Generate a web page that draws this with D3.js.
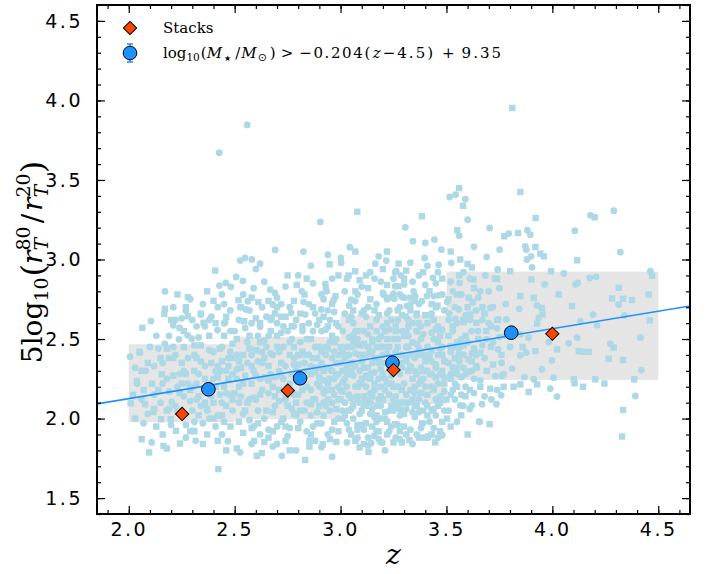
<!DOCTYPE html>
<html><head><meta charset="utf-8">
<script src="https://cdn.jsdelivr.net/npm/d3@7"></script>
<style>body{margin:0;background:#fff}svg{display:block}</style>
</head><body>
<svg id="c" width="711" height="574"></svg>
<script>
// ---------- data ----------
const xTicks = [2.0, 2.5, 3.0, 3.5, 4.0, 4.5];
const yTicks = [1.5, 2.0, 2.5, 3.0, 3.5, 4.0, 4.5];
const xDomain = [1.85, 4.65];
const yDomain = [1.4, 4.6];

// grey percentile bands per redshift bin
const bandZ0 = [2.0, 2.5, 3.0, 3.5];
const bandZ1 = [2.5, 3.0, 3.5, 4.5];
const bandLo = [1.977, 1.996, 2.09, 2.243];
const bandHi = [2.467, 2.515, 2.648, 2.924];

// stacks (orange diamonds)
const stackZ = [2.252, 2.751, 3.25, 4.0];
const stackY = [2.029, 2.176, 2.305, 2.533];

// mass-selected medians (blue circles)
const massZ = [2.376, 2.809, 3.245, 3.806];
const massY = [2.184, 2.253, 2.351, 2.54];

// linear fit (blue line) endpoints
const fitZ = [1.85, 4.65];
const fitY = [2.092, 2.708];

// individual galaxies: circles and squares [z, value]
const galCircles = [
[2.559,3.846],[2.427,3.671],[4.29,3.307],[2.904,3.236],[3.044,3.077],[3.003,2.98],
[2.006,2.389],[2.053,2.414],[2.108,1.85],[2.08,2.30],[2.09,2.03],
[2.105,2.613],[2.171,2.799],[2.16,2.35],[2.12,2.15],[2.19,2.06],[2.14,2.44],[2.18,2.25],[2.203,2.104],
[2.22,2.62],[2.21,2.586],[2.269,2.68],[2.237,2.498],[2.278,2.523],[2.297,2.502],[2.23,2.20],[2.26,2.30],[2.29,2.11],[2.22,2.40],[2.27,1.96],[2.25,2.03],
[2.34,2.654],[2.316,1.86],[2.37,2.05],[2.33,2.28],[2.39,2.14],[2.31,2.40],[2.36,2.33],[2.35,1.97],[2.38,2.43],[2.32,2.12],[2.36,2.58],
[2.428,2.836],[2.458,2.853],[2.482,2.828],[2.479,2.68],[2.455,2.606],[2.419,2.556],[2.468,1.858],[2.44,2.45],[2.41,2.30],[2.45,2.20],[2.49,2.05],[2.42,2.02],[2.47,2.38],[2.43,2.15],[2.49,2.28],[2.41,1.95],
[2.549,3.01],[2.526,2.993],[2.581,3.0],[2.507,2.89],[2.539,2.866],[2.562,2.738],[2.526,2.70],[2.553,2.686],[2.526,1.787],[2.56,2.48],[2.51,2.40],[2.59,2.30],[2.52,2.20],[2.57,2.12],[2.54,2.03],[2.50,2.55],[2.58,2.60],[2.56,2.35],[2.52,2.10],[2.59,1.95],[2.51,2.25],
[2.62,2.974],[2.691,3.06],[2.668,2.811],[2.69,2.79],[2.68,2.717],[2.675,2.633],[2.62,2.577],[2.68,1.824],[2.723,1.766],[2.65,2.45],[2.61,2.36],[2.67,2.28],[2.63,2.18],[2.69,2.08],[2.64,2.00],[2.66,2.52],[2.62,2.25],[2.68,2.40],[2.60,2.12],[2.66,1.93],
[2.767,2.665],[2.73,2.45],[2.78,2.38],[2.71,2.30],[2.76,2.22],[2.74,2.12],[2.79,2.02],[2.72,1.98],[2.75,2.55],[2.77,2.50],[2.70,2.60],[2.78,2.15],[2.73,2.25],[2.76,1.94],[2.71,2.42],[2.79,2.30],
[2.825,3.05],[2.817,2.80],[2.825,2.734],[2.833,2.654],[2.87,2.55],[2.81,2.48],[2.85,2.40],[2.88,2.32],[2.82,2.25],[2.86,2.18],[2.84,2.10],[2.89,2.04],[2.81,1.98],[2.87,1.95],[2.83,2.35],[2.88,2.45],[2.85,2.60],[2.80,2.15],[2.89,2.22],[2.86,2.02],
[2.94,3.03],[2.928,2.847],[2.935,2.80],[2.92,2.75],[2.909,2.686],[2.967,2.744],[2.95,2.62],[2.91,2.55],[2.98,2.50],[2.93,2.45],[2.96,2.38],[2.90,2.32],[2.99,2.28],[2.94,2.22],[2.97,2.15],[2.92,2.10],[2.95,2.05],[2.99,2.00],[2.91,1.97],[2.96,1.93],[2.93,2.40],[2.98,2.35],[2.90,2.20],
[3.001,3.01],[3.05,2.747],[3.069,2.738],[3.02,2.66],[3.06,2.60],[3.01,2.55],[3.08,2.50],[3.03,2.45],[3.09,2.40],[3.00,2.35],[3.05,2.30],[3.02,2.25],[3.07,2.20],[3.04,2.15],[3.09,2.10],[3.01,2.05],[3.06,2.00],[3.03,1.97],[3.08,1.93],[3.02,2.38],[3.06,2.48],[3.00,2.18],
[3.164,2.974],[3.19,1.85],[3.145,1.846],[3.203,2.78],[3.13,2.70],[3.17,2.62],[3.11,2.55],[3.15,2.50],[3.19,2.45],[3.12,2.40],[3.18,2.35],[3.14,2.28],[3.10,2.22],[3.16,2.18],[3.12,2.12],[3.19,2.08],[3.14,2.03],[3.17,1.98],[3.11,1.93],[3.13,1.88],[3.18,2.25],[3.15,2.42],[3.11,2.32],
[3.258,2.92],[3.258,2.832],[3.216,2.993],[3.263,2.926],[3.285,2.90],[3.25,2.785],[3.254,2.753],[3.29,2.765],[3.279,2.70],[3.22,2.75],[3.24,2.62],[3.21,2.55],[3.27,2.50],[3.23,2.45],[3.29,2.40],[3.25,2.30],[3.21,2.25],[3.27,2.20],[3.23,2.15],[3.29,2.10],[3.25,2.05],[3.21,2.00],[3.27,1.96],[3.23,1.92],[3.26,1.88],[3.22,2.35],[3.28,2.28],[3.197,1.85],[3.2,2.79],
[3.30,2.843],[3.345,2.80],[3.353,2.77],[3.313,2.707],[3.33,2.717],[3.384,2.738],[3.397,3.01],[3.40,3.104],[3.342,3.115],[3.306,3.202],[3.32,2.62],[3.36,2.55],[3.34,2.48],[3.38,2.42],[3.31,2.36],[3.35,2.30],[3.39,2.25],[3.33,2.18],[3.37,2.12],[3.31,2.06],[3.35,2.01],[3.39,1.97],[3.33,1.93],[3.413,1.88],[3.36,2.65],[3.38,2.58],[3.32,2.45],
[3.408,2.77],[3.44,2.77],[3.463,2.775],[3.443,3.125],[3.476,3.062],[3.463,2.968],[3.436,2.885],[3.412,1.89],[3.479,1.895],[3.48,1.897],[3.42,2.65],[3.46,2.58],[3.44,2.50],[3.48,2.45],[3.41,2.38],[3.45,2.32],[3.49,2.26],[3.43,2.20],[3.47,2.14],[3.41,2.08],[3.45,2.02],[3.49,2.68],[3.42,2.28],
[3.515,3.393],[3.543,3.407],[3.589,3.38],[3.523,2.979],[3.562,2.853],[3.503,2.734],[3.559,2.686],[3.513,2.659],[3.542,2.627],[3.558,2.41],[3.518,2.456],[3.565,2.083],[3.53,2.55],[3.57,2.50],[3.51,2.35],[3.55,2.28],[3.59,2.20],[3.52,2.15],[3.58,2.32],[3.54,2.22],
[3.62,2.083],[3.668,2.09],[3.657,1.98],[3.654,1.98],[3.625,2.732],[3.69,3.016],[3.683,2.899],[3.644,2.32],[3.62,2.41],[3.65,2.55],[3.61,2.62],[3.67,2.46],[3.63,2.25],
[3.712,2.12],[3.736,2.09],[3.758,2.146],[3.704,3.198],[3.751,3.062],[3.742,2.937],[3.707,2.696],[3.746,2.623],[3.783,2.623],[3.739,2.567],[3.751,2.512],[3.743,2.435],[3.762,2.267],[3.731,2.267],[3.77,2.28],[3.794,3.163],
[3.81,2.314],[3.844,2.69],[3.849,2.529],[3.888,2.508],[3.877,2.414],[3.849,2.397],[3.868,2.261],[3.882,3.184],[3.896,3.156],[3.872,3.083],[3.877,3.062],[3.88,3.0],[3.9,3.02],
[3.904,2.951],[3.964,2.843],[3.928,2.711],[3.936,2.634],[3.951,2.31],[3.912,2.247],[3.998,2.366],[3.995,2.529],[3.983,2.481],[3.99,2.188],
[4.006,2.257],[4.022,2.138],[4.054,2.912],[4.077,2.473],[4.109,2.843],[4.106,3.181],
[4.117,2.508],[4.12,2.853],[4.132,2.612],[4.192,2.654],[4.177,2.885],[4.207,2.891],[4.18,3.278],[4.211,2.587],[4.274,2.47],[4.313,2.717],[4.321,3.046],[4.34,2.648],[4.392,2.142],[4.416,2.508],[4.42,2.305],[4.463,2.926],
[2.03,2.32],[2.06,2.12],[2.12,2.33],[2.15,2.10],[2.17,2.47],[2.19,2.17],[2.21,2.45],[2.24,2.28],[2.26,2.14],[2.28,2.38],[2.30,2.05],[2.32,2.22],[2.34,2.36],[2.36,2.18],[2.38,2.00],[2.40,2.42],[2.42,2.33],[2.44,2.10],[2.46,2.30],[2.48,2.42],[2.24,2.57],[2.33,2.51],[2.39,2.64],[2.45,2.72],[2.13,2.52],[2.27,1.88],[2.44,1.90],[2.20,1.96],
[2.51,2.31],[2.53,2.14],[2.55,2.27],[2.57,1.99],[2.58,2.40],[2.60,2.27],[2.61,2.05],[2.63,2.35],[2.64,2.49],[2.66,2.16],[2.67,2.41],[2.69,2.26],[2.70,1.95],[2.71,2.11],[2.72,2.54],[2.74,2.33],[2.75,2.20],[2.77,2.06],[2.78,2.34],[2.80,2.24],[2.81,2.40],[2.83,2.05],[2.84,2.50],[2.86,2.33],[2.87,2.12],[2.89,2.38],[2.90,2.26],[2.92,2.16],[2.93,2.56],[2.95,2.31],[2.96,2.10],[2.97,2.42],[2.99,2.20],[2.55,2.57],[2.65,2.64],[2.72,2.72],[2.78,2.58],[2.88,2.66],[2.97,2.67],[2.62,1.90],[2.75,1.89],[2.84,1.92],[2.94,1.90],[2.58,1.84],[2.70,1.84],[2.79,1.80],[2.91,1.82],[2.96,1.76],
[3.01,2.23],[3.02,2.10],[3.03,2.33],[3.04,2.51],[3.05,2.06],[3.06,2.27],[3.07,2.41],[3.08,2.14],[3.09,2.30],[3.10,2.46],[3.11,2.08],[3.12,2.27],[3.13,2.53],[3.14,2.16],[3.15,2.35],[3.16,2.01],[3.17,2.45],[3.18,2.12],[3.19,2.31],[3.20,2.58],[3.21,2.18],[3.22,2.41],[3.23,2.05],[3.24,2.27],[3.25,2.50],[3.26,2.14],[3.27,2.35],[3.28,2.02],[3.29,2.55],[3.30,2.22],[3.31,2.45],[3.32,2.10],[3.33,2.33],[3.34,2.60],[3.35,2.16],[3.36,2.47],[3.37,2.04],[3.38,2.32],[3.39,2.53],[3.40,2.20],[3.41,2.45],[3.42,1.98],[3.43,2.36],[3.44,2.62],[3.45,2.12],[3.46,2.40],[3.47,2.28],[3.48,2.56],[3.49,2.17],[3.04,2.71],[3.10,2.83],[3.16,2.88],[3.23,2.68],[3.30,2.76],[3.37,2.90],[3.45,2.85],[3.12,2.64],[3.27,2.62],[3.08,1.88],[3.17,1.92],[3.28,1.87],[3.36,1.90],[3.44,1.94],[3.03,1.85],[3.21,1.80],
[3.52,2.42],[3.55,2.60],[3.57,2.15],[3.60,2.48],[3.62,2.30],[3.64,2.68],[3.66,2.24],[3.68,2.38],[3.70,2.60],[3.72,2.48],[3.74,2.18],[3.76,2.35],[3.78,2.52],[3.53,2.80],[3.58,2.92],[3.63,3.08],[3.56,3.15],[3.60,3.25],[3.66,2.80],
[2.52,2.62],[2.54,2.78],[2.57,2.68],[2.59,2.82],[2.61,2.52],[2.63,2.70],[2.64,2.86],[2.67,2.62],[2.70,2.76],[2.73,2.58],[2.74,2.83],[2.76,2.70],[2.79,2.62],[2.80,2.90],[2.82,2.55],[2.85,2.72],[2.87,2.85],[2.89,2.59],[2.91,2.78],[2.94,2.68],[2.96,2.88],[2.99,2.58],[2.60,2.94],[2.86,2.96],
[3.02,2.80],[3.05,2.64],[3.08,2.78],[3.11,2.68],[3.14,2.92],[3.17,2.72],[3.19,2.86],[3.22,2.66],[3.25,2.88],[3.28,2.78],[3.31,2.64],[3.34,2.86],[3.37,2.72],[3.40,2.84],[3.43,2.66],[3.46,2.92],[3.48,2.78],[3.33,2.98],[3.18,3.02],[3.41,2.96],
[2.91,2.35],[2.93,2.08],[2.95,2.48],[2.97,2.25],[2.99,2.40],[3.01,2.00],[3.03,2.20],[3.04,2.40],[3.06,2.12],[3.07,2.55],[3.09,2.03],[3.10,2.36],[3.12,2.20],[3.13,2.45],[3.15,2.06],[3.16,2.29],[3.18,2.50],[3.19,2.00],[3.20,2.40],[3.22,2.22],[3.23,2.56],[3.25,2.12],[3.26,2.42],[3.28,2.06],[3.29,2.32],[3.31,2.15],[3.32,2.52],[3.34,2.04],[3.35,2.38],[3.37,2.22],[3.38,2.50],[3.40,2.10],[3.41,2.30],[3.43,2.54],[3.44,2.06],[3.46,2.22],[3.47,2.44],[3.49,2.05],[3.36,2.28],[3.24,2.36],[3.14,2.10],[3.06,2.34],[3.27,2.10],[3.39,2.40],[3.45,2.34],
[2.21,2.70],[2.25,2.63],[2.29,2.75],[2.32,2.58],[2.35,2.72],[2.38,2.62],[2.42,2.70],[2.45,2.60],[2.48,2.55],[2.30,2.62],[2.19,2.52],[2.44,2.78],
[3.51,2.62],[3.52,2.86],[3.54,2.70],[3.55,2.48],[3.57,2.78],[3.58,2.40],[3.59,2.65],[3.61,2.88],[3.62,2.55],[3.64,2.40],[3.65,2.76],[3.67,2.62],[3.69,2.50],[3.70,2.80],[3.53,2.32],[3.57,2.26],[3.63,2.16],[3.68,2.14],[3.72,2.70],[3.75,2.82],[3.78,2.72],[3.80,2.45],
[3.04,1.93],[3.10,1.96],[3.18,1.87],[3.24,1.95],[3.31,1.90],[3.38,1.94],[3.46,1.88],[3.34,1.84],[3.13,1.83],
[2.04,2.22],[2.10,2.45],[2.16,2.22],[2.22,2.08],[2.28,2.22],[2.34,2.08],[2.40,2.25],[2.46,2.16],[2.07,1.97],[2.31,1.98],
[3.51,2.05],[3.53,2.18],[3.55,1.98],[3.56,2.36],[3.58,2.08],[3.52,2.28],[3.54,2.12],[3.57,2.40],[3.59,2.28],[3.61,2.06]
];
const galSquares = [
[3.811,3.953],[3.07,3.05],[3.079,3.30],[2.408,2.93],
[2.064,2.571],[2.009,2.096],[2.077,2.09],[2.038,2.236],[2.061,1.87],[2.096,1.787],[2.07,2.18],[2.03,2.00],
[2.171,2.69],[2.168,2.659],[2.116,2.042],[2.152,1.996],[2.164,1.828],[2.18,1.812],[2.156,2.278],[2.11,2.22],[2.19,2.38],[2.13,1.95],[2.198,1.996],
[2.279,2.763],[2.242,1.843],[2.223,1.923],[2.279,2.644],[2.25,2.35],[2.21,2.27],[2.29,2.18],[2.26,2.45],[2.23,2.05],[2.29,1.92],[2.305,1.923],
[2.353,2.602],[2.31,1.92],[2.33,2.02],[2.38,2.22],[2.30,2.20],[2.34,2.46],[2.37,1.90],[2.39,2.35],[2.31,2.30],[2.36,2.10],[2.40,2.00],
[2.423,1.682],[2.45,2.52],[2.44,2.36],[2.40,2.10],[2.47,2.25],[2.48,1.95],[2.43,2.44],[2.46,2.08],[2.49,2.47],[2.42,2.26],[2.45,1.98],[2.48,2.15],
[2.518,2.745],[2.545,2.612],[2.51,1.812],[2.592,1.86],[2.57,2.44],[2.53,2.32],[2.50,2.16],[2.58,2.22],[2.55,2.05],[2.52,1.98],[2.57,2.52],[2.54,2.40],[2.59,2.13],[2.51,2.50],
[2.612,2.732],[2.605,1.766],[2.628,1.783],[2.64,1.853],[2.66,2.33],[2.62,2.48],[2.68,2.20],[2.65,2.05],[2.61,1.97],[2.67,2.55],[2.63,2.42],[2.69,2.14],[2.64,2.26],
[2.793,2.84],[2.74,2.64],[2.72,2.35],[2.77,2.28],[2.75,2.08],[2.71,2.18],[2.78,2.45],[2.73,2.00],[2.76,2.40],[2.70,2.52],[2.79,2.10],[2.74,1.95],[2.77,2.58],
[2.833,1.74],[2.853,1.86],[2.853,1.824],[2.82,2.58],[2.86,2.50],[2.84,2.30],[2.88,2.12],[2.81,2.05],[2.87,2.38],[2.84,2.20],[2.89,1.97],[2.82,2.42],[2.86,2.28],[2.80,2.34],
[2.948,2.97],[2.976,2.77],[2.916,1.838],[2.98,1.853],[2.94,2.58],[2.97,2.48],[2.91,2.42],[2.96,2.30],[2.93,2.18],[2.99,2.12],[2.92,2.02],[2.97,1.98],[2.95,2.25],[2.90,2.08],[2.98,2.60],[2.93,2.32],
[3.038,2.899],[3.069,2.926],[3.09,2.87],[3.09,1.818],[3.04,2.62],[3.08,2.55],[3.01,2.42],[3.05,2.35],[3.03,2.28],[3.09,2.22],[3.00,2.12],[3.06,2.08],[3.02,2.02],[3.08,1.96],[3.05,2.45],[3.01,2.30],
[3.132,1.79],[3.12,2.90],[3.18,2.65],[3.14,2.58],[3.19,2.52],[3.11,2.47],[3.16,2.38],[3.13,2.32],[3.19,2.20],[3.15,2.14],[3.10,2.05],[3.17,2.02],[3.12,1.97],[3.18,1.92],[3.14,2.25],
[3.219,3.05],[3.274,2.974],[3.274,2.832],[3.258,1.965],[3.29,2.65],[3.22,2.60],[3.26,2.55],[3.21,2.45],[3.28,2.35],[3.24,2.22],[3.20,2.12],[3.26,2.08],[3.22,1.98],[3.28,1.92],[3.25,1.85],
[3.31,2.93],[3.384,3.272],[3.384,1.97],[3.325,1.865],[3.30,2.03],[3.34,2.12],[3.38,2.24],[3.32,2.30],[3.36,2.40],[3.30,2.52],[3.37,2.60],[3.33,2.68],[3.35,2.20],[3.39,2.05],
[3.447,1.85],[3.458,2.71],[3.503,2.0],[3.43,2.05],[3.47,2.10],[3.41,2.15],[3.45,2.26],[3.49,2.36],[3.43,2.43],[3.47,2.52],[3.41,2.60],[3.48,1.98],
[3.56,3.449],[3.578,3.338],[3.551,3.184],[3.565,3.0],[3.6,2.972],[3.628,2.874],[3.581,2.606],[3.6,1.9],[3.52,2.25],[3.56,2.45],[3.54,2.38],[3.59,2.52],
[3.605,2.759],[3.613,2.655],[3.641,2.602],[3.688,2.55],[3.66,2.414],[3.605,2.372],[3.605,2.295],[3.66,2.2],[3.704,1.965],[3.64,2.33],
[3.739,2.878],[3.801,2.926],[3.773,3.146],[3.707,2.188],[3.76,2.40],[3.72,2.34],
[3.838,3.167],[3.849,3.424],[3.849,2.77],[3.849,2.215],[3.817,2.2],[3.888,2.167],[3.86,2.45],
[3.921,3.261],[3.92,3.079],[3.943,3.037],[3.96,3.02],[3.901,2.874],[3.912,2.759],[3.951,2.696],[3.954,2.654],[3.928,2.596],[3.92,2.424],[3.928,2.215],[3.994,2.926],
[4.03,2.78],[4.022,2.435],[4.093,2.707],[4.117,2.995],[4.125,2.424],[4.148,2.42],[4.172,2.42],[4.105,2.222],[4.145,2.2],[4.101,2.247],[4.203,2.247],[4.246,2.22],[4.2,3.265],[4.282,2.755],[4.266,2.376],[4.29,2.446],[4.314,2.822],[4.334,2.753],[4.376,2.745],[4.334,2.368],[4.334,2.054],[4.329,1.887],[4.387,2.246],[4.455,2.78],[4.471,2.899],[4.46,2.617],
[2.02,2.15],[2.05,2.42],[2.09,2.35],[2.14,2.18],[2.18,2.05],[2.21,2.38],[2.24,2.16],[2.27,2.28],[2.31,2.46],[2.33,2.14],[2.36,2.25],[2.38,2.52],[2.41,2.20],[2.44,2.02],[2.47,2.33],[2.49,2.12],[2.26,2.55],[2.41,2.60],[2.16,1.90],[2.35,1.84],[2.46,1.80],
[2.52,2.36],[2.54,2.22],[2.56,2.10],[2.58,2.33],[2.60,2.43],[2.62,2.15],[2.64,2.38],[2.66,2.24],[2.68,2.04],[2.70,2.45],[2.72,2.27],[2.74,2.14],[2.76,2.48],[2.78,2.03],[2.80,2.40],[2.82,2.18],[2.84,2.40],[2.86,2.09],[2.88,2.29],[2.90,2.45],[2.92,2.24],[2.94,2.12],[2.96,2.52],[2.98,2.27],[2.60,2.63],[2.70,2.70],[2.83,2.78],[2.92,2.64],[2.66,1.88],[2.80,1.94],[2.88,1.86],[2.54,1.91],[2.76,1.80],[2.95,1.87],
[3.01,2.17],[3.03,2.40],[3.05,2.13],[3.07,2.33],[3.08,2.46],[3.10,2.25],[3.12,2.08],[3.14,2.41],[3.16,2.22],[3.17,2.55],[3.19,2.14],[3.21,2.35],[3.22,2.50],[3.24,2.08],[3.26,2.30],[3.27,2.45],[3.29,2.18],[3.31,2.38],[3.32,2.58],[3.34,2.25],[3.36,2.08],[3.37,2.44],[3.39,2.30],[3.40,2.65],[3.42,2.40],[3.44,2.18],[3.46,2.48],[3.48,2.30],[3.06,2.68],[3.14,2.75],[3.22,2.84],[3.35,2.74],[3.43,2.72],[3.05,1.90],[3.15,1.95],[3.30,1.95],[3.40,1.88],[3.47,1.92],[3.11,1.84],
[3.51,2.52],[3.54,2.30],[3.58,2.62],[3.61,2.18],[3.63,2.44],[3.67,2.70],[3.69,2.30],[3.71,2.45],[3.74,2.62],[3.77,2.20],[3.55,2.78],[3.62,2.95],[3.52,3.05],
[2.53,2.70],[2.58,2.76],[2.62,2.60],[2.66,2.74],[2.69,2.66],[2.72,2.64],[2.75,2.90],[2.78,2.74],[2.81,2.66],[2.84,2.88],[2.87,2.70],[2.90,2.62],[2.93,2.82],[2.96,2.72],[2.99,2.90],
[3.03,2.88],[3.07,2.80],[3.10,2.66],[3.13,2.82],[3.16,2.68],[3.20,2.94],[3.23,2.76],[3.27,2.68],[3.30,2.88],[3.33,2.76],[3.36,2.66],[3.39,2.92],[3.42,2.80],[3.45,2.70],[3.48,2.88],
[2.92,2.30],[2.94,2.44],[2.96,2.18],[2.98,2.06],[3.00,2.45],[3.02,2.30],[3.04,2.05],[3.06,2.52],[3.08,2.20],[3.10,2.40],[3.11,2.14],[3.13,2.26],[3.15,2.48],[3.17,2.08],[3.18,2.38],[3.20,2.28],[3.21,2.04],[3.23,2.32],[3.25,2.20],[3.26,2.58],[3.28,2.40],[3.30,2.10],[3.31,2.55],[3.33,2.40],[3.35,2.08],[3.36,2.55],[3.38,2.16],[3.40,2.36],[3.41,2.02],[3.43,2.28],[3.45,2.56],[3.46,2.08],[3.48,2.40],[3.49,2.22],
[2.20,2.62],[2.27,2.70],[2.34,2.66],[2.40,2.74],[2.46,2.64],[2.23,2.78],[2.37,2.80],
[3.51,2.75],[3.53,2.58],[3.56,2.90],[3.58,2.46],[3.60,2.70],[3.63,2.82],[3.65,2.50],[3.68,2.66],[3.71,2.58],[3.73,2.88],[3.55,2.20],[3.62,2.36],
[3.07,1.86],[3.16,1.89],[3.22,1.90],[3.29,1.85],[3.37,1.88],[3.43,1.90],[2.58,1.94],[2.68,1.92],[2.74,1.86],[2.86,1.90],[2.99,1.92],
[2.06,2.30],[2.12,2.06],[2.18,2.44],[2.25,2.22],[2.32,2.38],[2.37,2.06],[2.43,2.30],[2.49,2.38],[2.15,2.38],[2.42,1.86],
[3.50,2.12],[3.52,1.95],[3.55,2.32],[3.57,2.02],[3.59,2.14],[3.53,2.45]
];

// ---------- drawing ----------
const svg = d3.select('#c');
const L = 97, R = 690, T = 5, B = 514;
const x = d3.scaleLinear().domain(xDomain).range([L, R]);
const y = d3.scaleLinear().domain(yDomain).range([B, T]);
const SERIF = "'DejaVu Serif', serif";
const SANS = "'DejaVu Sans', sans-serif";

const plot = svg.append('g');
plot.append('defs').append('clipPath').attr('id','clip')
  .append('rect').attr('x',L).attr('y',T).attr('width',R-L).attr('height',B-T);
const inner = plot.append('g').attr('clip-path','url(#clip)');

// bands
inner.selectAll('rect.band').data(bandZ0).join('rect').attr('class','band')
  .attr('x', (d,i)=>x(d)).attr('width',(d,i)=>x(bandZ1[i])-x(d))
  .attr('y',(d,i)=>y(bandHi[i])).attr('height',(d,i)=>y(bandLo[i])-y(bandHi[i]))
  .attr('fill','#e5e5e5');

// galaxies
const pc = '#add8e6';
inner.selectAll('rect.sq').data(galSquares).join('rect').attr('class','sq')
  .attr('x',d=>x(d[0])-3.2).attr('y',d=>y(d[1])-3.2).attr('width',6.4).attr('height',6.4)
  .attr('fill',pc);
inner.selectAll('circle.gc').data(galCircles).join('circle').attr('class','gc')
  .attr('cx',d=>x(d[0])).attr('cy',d=>y(d[1])).attr('r',3.4).attr('fill',pc);

// fit line
inner.append('line').attr('x1',x(fitZ[0])).attr('y1',y(fitY[0]))
  .attr('x2',x(fitZ[1])).attr('y2',y(fitY[1]))
  .attr('stroke','#1e90ff').attr('stroke-width',1.6);

// markers
inner.selectAll('circle.m').data(massZ).join('circle').attr('class','m')
  .attr('cx',d=>x(d)).attr('cy',(d,i)=>y(massY[i])).attr('r',6.8)
  .attr('fill','#1e90ff').attr('stroke','#000').attr('stroke-width',1);
const dia = d3.symbol().type(d3.symbolSquare).size(88);
inner.selectAll('path.st').data(stackZ).join('path').attr('class','st')
  .attr('d',dia).attr('transform',(d,i)=>`translate(${x(d)},${y(stackY[i])}) rotate(45)`)
  .attr('fill','#ff4500').attr('stroke','#000').attr('stroke-width',1);

// axes
function styleAxis(g){ g.select('.domain').remove(); g.selectAll('line').attr('stroke','#000').attr('stroke-width',1.2); }
const minorX = d3.range(19,47).map(v=>v/10).filter(v=>v>=xDomain[0]&&v<=xDomain[1]);
const minorY = d3.range(14,47).map(v=>v/10).filter(v=>v>=yDomain[0]&&v<=yDomain[1]);
const fmt = d3.format('.1f');
const ax = [
 [d3.axisBottom(x).tickValues(xTicks).tickSize(-8).tickPadding(9).tickFormat(fmt), `translate(0,${B})`],
 [d3.axisBottom(x).tickValues(minorX).tickSize(-4).tickFormat(''), `translate(0,${B})`],
 [d3.axisTop(x).tickValues(xTicks).tickSize(-8).tickFormat(''), `translate(0,${T})`],
 [d3.axisTop(x).tickValues(minorX).tickSize(-4).tickFormat(''), `translate(0,${T})`],
 [d3.axisLeft(y).tickValues(yTicks).tickSize(-8).tickPadding(14).tickFormat(fmt), `translate(${L},0)`],
 [d3.axisLeft(y).tickValues(minorY).tickSize(-4).tickFormat(''), `translate(${L},0)`],
 [d3.axisRight(y).tickValues(yTicks).tickSize(-8).tickFormat(''), `translate(${R},0)`],
 [d3.axisRight(y).tickValues(minorY).tickSize(-4).tickFormat(''), `translate(${R},0)`],
];
ax.forEach(([a,t])=>{
  const g = svg.append('g').attr('transform',t).call(a).call(styleAxis);
  g.selectAll('text').attr('font-family',SANS).attr('font-size',19).attr('fill','#000')
    .style('letter-spacing','2.5px');
});
svg.append('rect').attr('x',L).attr('y',T).attr('width',R-L).attr('height',B-T)
  .attr('fill','none').attr('stroke','#000').attr('stroke-width',2);

// rich text helper
function rich(parent, pieces, anchor){
  const g = parent.append('g');
  let cx = 0, prevStart = 0;
  pieces.forEach(p=>{
    const t = g.append('text').attr('font-family',p.ff||SERIF).attr('font-size',p.s)
      .attr('font-style',p.i?'italic':'normal').attr('fill','#000').text(p.t);
    if(p.ls) t.style('letter-spacing',p.ls+'px');
    const sx = p.stack ? prevStart : cx + (p.pre||0);
    t.attr('x',sx).attr('y',p.dy||0);
    const w = t.node().getComputedTextLength();
    if(p.stack){ cx = Math.max(cx, sx+w); } else { prevStart = sx; cx = sx+w; }
  });
  if(anchor==='middle') g.attr('transform',`translate(${-cx/2},0)`);
  return g;
}

// y label
const yl = svg.append('g').attr('transform','translate(42,262) rotate(-90)');
rich(yl, [
 {t:'5log',s:28},{t:'10',s:19,dy:6},{t:'(',s:32,dy:2,pre:1},{t:'r',s:28,i:1},
 {t:'80',s:19,dy:-12},{t:'T',s:19,i:1,dy:6,stack:1},{t:'/',s:28,pre:3},{t:'r',s:28,i:1,pre:3},
 {t:'20',s:19,dy:-12},{t:'T',s:19,i:1,dy:6,stack:1},{t:')',s:32,dy:2}
],'middle');

// x label
svg.append('text').attr('x',(L+R)/2).attr('y',564).attr('text-anchor','middle')
  .attr('font-family',SERIF).attr('font-style','italic').attr('font-size',28).text('z');

// legend
const lg = svg.append('g');
lg.append('path').attr('d',dia).attr('transform','translate(130,28) rotate(45)')
  .attr('fill','#ff4500').attr('stroke','#000').attr('stroke-width',1);
lg.append('line').attr('x1',130).attr('x2',130).attr('y1',44).attr('y2',62).attr('stroke','#1e90ff').attr('stroke-width',1.5);
lg.append('line').attr('x1',127).attr('x2',133).attr('y1',44).attr('y2',44).attr('stroke','#1e90ff').attr('stroke-width',1.5);
lg.append('line').attr('x1',127).attr('x2',133).attr('y1',62).attr('y2',62).attr('stroke','#1e90ff').attr('stroke-width',1.5);
lg.append('circle').attr('cx',130).attr('cy',53).attr('r',6.8).attr('fill','#1e90ff').attr('stroke','#000').attr('stroke-width',1);
lg.append('text').attr('x',163).attr('y',33).attr('font-family',SERIF).attr('font-size',15).text('Stacks');
const l2 = lg.append('g').attr('transform','translate(163,58)');
rich(l2, [
 {t:'log',s:15},{t:'10',s:10.5,dy:3},{t:'(',s:15,pre:1},{t:'M',s:15,i:1},{t:'★',s:8,dy:3,pre:2,ff:SANS},
 {t:'/',s:15,pre:4},{t:'M',s:15,i:1,pre:1},{t:'⊙',s:11,dy:3,pre:1,ff:SANS},{t:')',s:15,pre:3},
 {t:'>',s:15,pre:5},{t:'−0.204(',s:15,pre:6,ls:1.6},{t:'z',s:15,i:1,pre:1},{t:'−4.5)',s:15,pre:2,ls:2},{t:'+',s:15,pre:7},{t:'9.35',s:15,pre:7,ls:2}
]);
</script>
</body></html>
